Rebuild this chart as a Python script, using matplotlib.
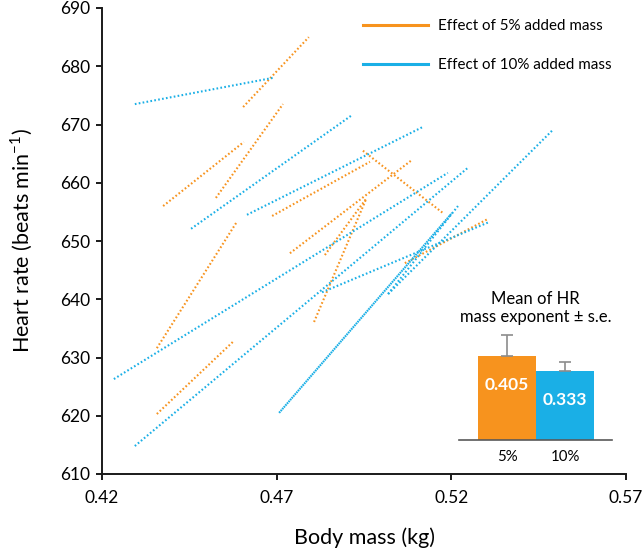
import matplotlib.pyplot as plt
from matplotlib.lines import Line2D

plt.rcParams['font.family'] = ['Lato', 'DejaVu Sans']
plt.rcParams['mathtext.fontset'] = 'custom'
plt.rcParams['mathtext.rm'] = 'Lato'

ORANGE = '#F7931E'
BLUE = '#1AAFE6'

# effect of 5% added mass: body mass (kg) and heart rate before -> after
m5_a = [0.4604, 0.4526, 0.4375, 0.4357, 0.4357, 0.4687, 0.4947, 0.4738, 0.4807, 0.4838, 0.5067]
m5_b = [0.4792, 0.4718, 0.4606, 0.4584, 0.4575, 0.4967, 0.5176, 0.5087, 0.4956, 0.4958, 0.5305]
hr5_a = [673.0, 657.4, 656.0, 631.6, 620.3, 654.3, 665.5, 647.9, 636.1, 647.6, 646.2]
hr5_b = [685.0, 673.5, 667.0, 653.1, 632.7, 663.6, 654.8, 663.9, 657.2, 657.4, 653.8]

# effect of 10% added mass
m10_a = [0.4294, 0.4455, 0.4615, 0.4234, 0.4294, 0.4707, 0.5019, 0.5019, 0.4830]
m10_b = [0.4689, 0.4913, 0.5119, 0.5190, 0.5250, 0.5202, 0.5219, 0.5491, 0.5310]
hr10_a = [673.5, 652.1, 654.5, 626.3, 614.8, 620.5, 640.9, 640.9, 641.2]
hr10_b = [678.0, 671.5, 669.6, 661.7, 662.7, 654.8, 656.0, 669.1, 653.3]

# inset: mean HR mass exponent
groups = ['5%', '10%']
exponent = [0.405, 0.333]
exponent_se = [0.101, 0.043]

fig = plt.figure(figsize=(6.44, 5.51), dpi=100)
ax = fig.add_axes([102/644, 77/551, 524/644, 466/551])

for i in range(len(m5_a)):
    ax.plot([m5_a[i], m5_b[i]], [hr5_a[i], hr5_b[i]], color=ORANGE, lw=1.5,
            linestyle=(0, (0.8, 1.1)))
for i in range(len(m10_a)):
    style = (0, (0.8, 0.35)) if i == 5 else (0, (0.8, 1.1))  # one line is packed tight
    ax.plot([m10_a[i], m10_b[i]], [hr10_a[i], hr10_b[i]], color=BLUE, lw=1.5,
            linestyle=style)

ax.set_xlim(0.42, 0.57)
ax.set_ylim(610, 690)
ax.set_xticks([0.42, 0.47, 0.52, 0.57])
ax.set_xticklabels(['0.42', '0.47', '0.52', '0.57'])
ax.set_yticks(range(610, 691, 10))
for s in ['top', 'right']:
    ax.spines[s].set_visible(False)
for s in ['left', 'bottom']:
    ax.spines[s].set_linewidth(1.4)
    ax.spines[s].set_color('#1a1a1a')
ax.tick_params(direction='out', length=4.5, width=1.4, labelsize=12.5, color='#1a1a1a')
ax.tick_params(axis='x', pad=7)
ax.tick_params(axis='y', pad=4)

ax.set_xlabel('Body mass (kg)', fontsize=15.5)
ax.set_ylabel(r'Heart rate (beats min$^{\mathrm{-1}}$)', fontsize=15.5)
ax.xaxis.set_label_coords(0.5, -0.137)
ax.xaxis.label.set_va('center')
ax.yaxis.set_label_coords(-0.153, 0.5)
ax.yaxis.label.set_va('center')

handles = [Line2D([], [], color=ORANGE, lw=2.2, label='Effect of 5% added mass'),
           Line2D([], [], color=BLUE, lw=2.2, label='Effect of 10% added mass')]
ax.legend(handles=handles, loc='upper left', bbox_to_anchor=(0.4975, 0.976),
          frameon=False, fontsize=10.9, handlelength=4.3, handletextpad=0.7,
          labelspacing=1.65, borderpad=0, borderaxespad=0)

# inset bar chart
ax_in = fig.add_axes([459/644, 111/551, 153/644, 124/551])
ax_in.patch.set_alpha(0)
ax_in.bar([0, 1], exponent, width=1.0, color=[ORANGE, BLUE],
          yerr=[[0, 0], exponent_se], ecolor='#8c8c8c', capsize=4,
          error_kw={'elinewidth': 1.2, 'capthick': 1.2})
ax_in.set_xlim(-0.828, 1.81)
ax_in.set_ylim(0, 0.6)
for s in ['top', 'right', 'left']:
    ax_in.spines[s].set_visible(False)
ax_in.spines['bottom'].set_color('#595959')
ax_in.spines['bottom'].set_linewidth(1.2)
ax_in.set_yticks([])
ax_in.set_xticks([0, 1])
ax_in.set_xticklabels(groups)
ax_in.tick_params(axis='x', length=0, pad=7, labelsize=10.8)
for i, v in enumerate(exponent):
    ax_in.text(i, v - 0.14, f'{v:.3f}', color='white', fontsize=12.5,
               fontweight='bold', ha='center', va='center')
ax_in.text(0.5, 1.065, 'Mean of HR\nmass exponent \u00b1 s.e.', transform=ax_in.transAxes,
           ha='center', va='center', fontsize=12, linespacing=1.2)

fig.savefig('out.png', dpi=100)
